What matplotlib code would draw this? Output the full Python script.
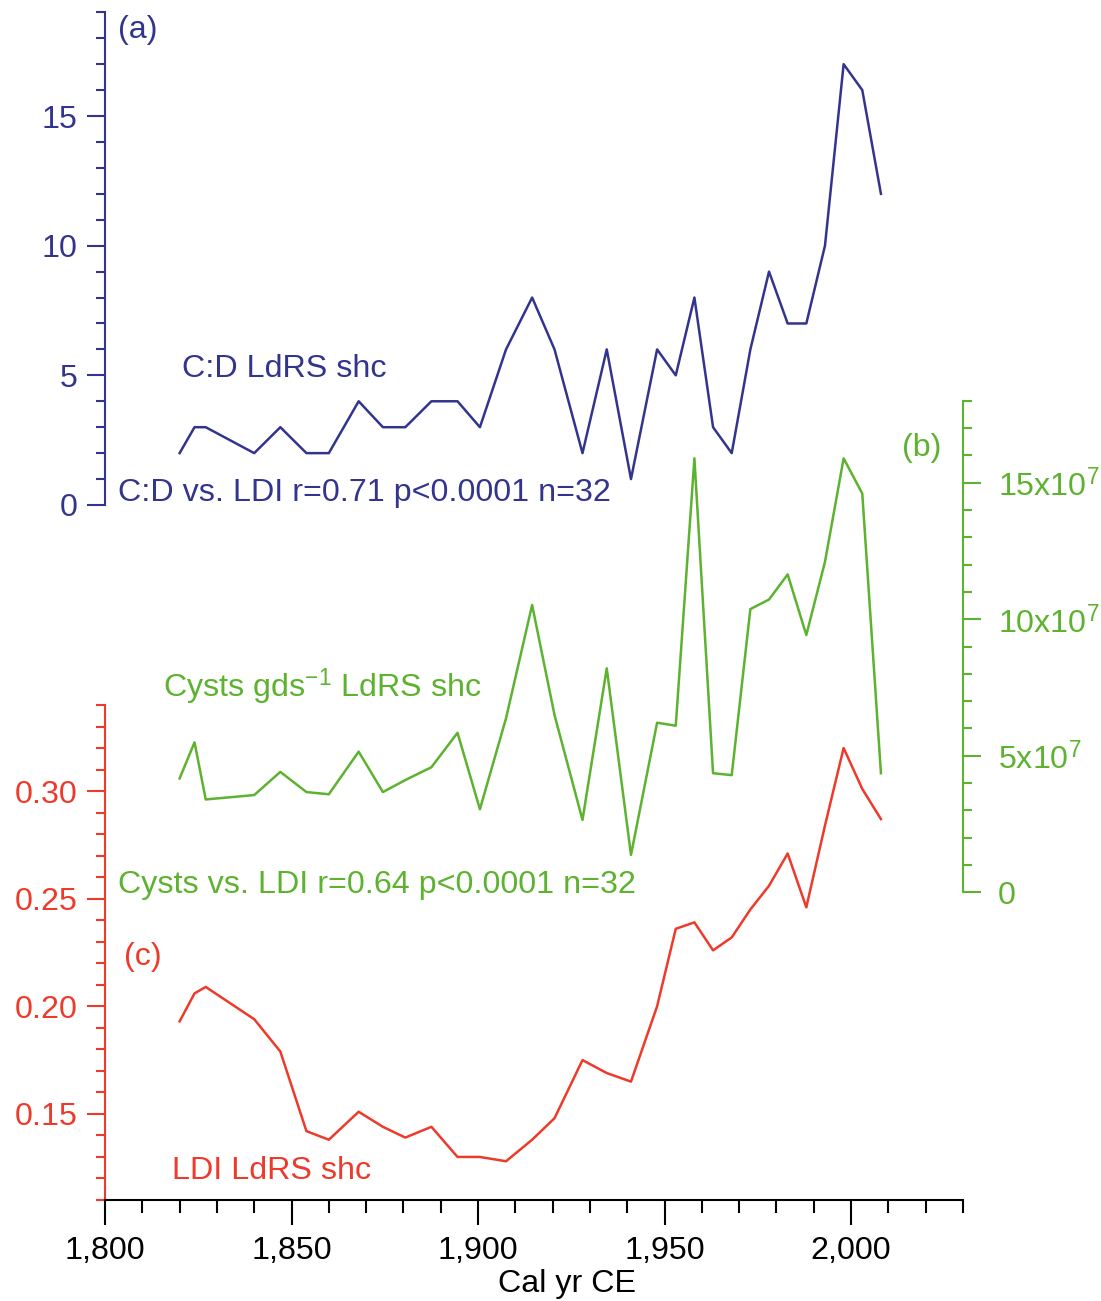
import matplotlib.pyplot as plt
from matplotlib.ticker import MultipleLocator, FuncFormatter

plt.rcParams['font.family'] = ['Liberation Sans', 'DejaVu Sans']
plt.rcParams['mathtext.fontset'] = 'custom'
plt.rcParams['mathtext.rm'] = 'Liberation Sans'
plt.rcParams['mathtext.default'] = 'regular'

# sample ages (Cal yr CE), shared by all three records
years = [1820, 1824, 1827, 1840, 1847, 1854, 1860, 1868, 1874.5, 1880.5,
         1887.5, 1894.5, 1900.5, 1907.5, 1914.5, 1920.5, 1928, 1934.5, 1941, 1948,
         1953, 1958, 1963, 1968, 1973, 1978, 1983, 1988, 1993, 1998,
         2003, 2008]
# (a) C:D ratio
cd_ratio = [2, 3, 3, 2, 3, 2, 2, 4, 3, 3,
            4, 4, 3, 6, 8, 6, 2, 6, 1, 6,
            5, 8, 3, 2, 6, 9, 7, 7, 10, 17,
            16, 12]
# (b) cysts per gram dry sediment, in units of 1e7
cysts = [4.17, 5.49, 3.40, 3.56, 4.41, 3.67, 3.59, 5.15, 3.67, 4.11,
         4.58, 5.84, 3.04, 6.37, 10.52, 6.49, 2.65, 8.20, 1.37, 6.21,
         6.10, 15.89, 4.36, 4.29, 10.37, 10.72, 11.64, 9.42, 12.10, 15.89,
         14.60, 4.36]
# (c) LDI
ldi = [0.193, 0.206, 0.209, 0.194, 0.179, 0.142, 0.138, 0.151, 0.144, 0.139,
       0.144, 0.130, 0.130, 0.128, 0.138, 0.148, 0.175, 0.169, 0.165, 0.200,
       0.236, 0.239, 0.226, 0.232, 0.245, 0.256, 0.271, 0.246, 0.284, 0.320,
       0.301, 0.287]

BLUE = '#33348e'
GREEN = '#5db22f'
RED = '#ee3a2a'
FS = 23.2
LW = 1.8

W, H = 1101, 1301
fig = plt.figure(figsize=(W / 100, H / 100), dpi=100)
X0, X1 = 105, 963


def box(top, bottom):
    return [X0 / W, 1 - bottom / H, (X1 - X0) / W, (bottom - top) / H]


def ftext(x, y, s, color):
    fig.text(x / W, 1 - y / H, s, color=color, fontsize=FS, ha='left', va='baseline')


ax_c = fig.add_axes(box(705, 1200))
ax_b = fig.add_axes(box(400.7, 892.3))
ax_a = fig.add_axes(box(12.3, 505))

for ax in (ax_a, ax_b, ax_c):
    ax.set_facecolor('none')
    ax.set_xlim(1800, 2030)
    for s in ax.spines.values():
        s.set_visible(False)
        s.set_linewidth(1.5)

# (a)
ax_a.plot(years, cd_ratio, color=BLUE, lw=LW)
ax_a.set_ylim(0, 19)
ax_a.spines['left'].set_visible(True)
ax_a.spines['left'].set_color(BLUE)
ax_a.xaxis.set_visible(False)
ax_a.yaxis.set_major_locator(MultipleLocator(5))
ax_a.yaxis.set_minor_locator(MultipleLocator(1))
ax_a.tick_params(axis='y', which='both', direction='out', color=BLUE, labelcolor=BLUE,
                 width=1.5, labelsize=FS, pad=7)
ax_a.tick_params(axis='y', which='major', length=13)
ax_a.tick_params(axis='y', which='minor', length=6.5)

# (b)
ax_b.plot(years, cysts, color=GREEN, lw=LW)
ax_b.set_ylim(0, 18)
ax_b.spines['right'].set_visible(True)
ax_b.spines['right'].set_color(GREEN)
ax_b.xaxis.set_visible(False)
ax_b.yaxis.tick_right()
ax_b.yaxis.set_major_locator(MultipleLocator(5))
ax_b.yaxis.set_minor_locator(MultipleLocator(1))
ax_b.yaxis.set_major_formatter(FuncFormatter(
    lambda v, p: '0' if v == 0 else r'$\mathregular{%dx10^{7}}$' % int(v)))
ax_b.tick_params(axis='y', which='both', direction='out', color=GREEN, labelcolor=GREEN,
                 width=1.5, labelsize=FS, pad=12)
ax_b.tick_params(axis='y', which='major', length=13)
ax_b.tick_params(axis='y', which='minor', length=6.5)

# (c)
ax_c.plot(years, ldi, color=RED, lw=LW)
ax_c.set_ylim(0.11, 0.34)
ax_c.spines['left'].set_visible(True)
ax_c.spines['left'].set_color(RED)
ax_c.spines['bottom'].set_visible(True)
ax_c.spines['bottom'].set_color('black')
ax_c.yaxis.set_major_locator(MultipleLocator(0.05))
ax_c.yaxis.set_minor_locator(MultipleLocator(0.01))
ax_c.yaxis.set_major_formatter(FuncFormatter(lambda v, p: '%.2f' % v))
ax_c.tick_params(axis='y', which='both', direction='out', color=RED, labelcolor=RED,
                 width=1.5, labelsize=FS, pad=7)
ax_c.tick_params(axis='y', which='major', length=13)
ax_c.tick_params(axis='y', which='minor', length=6.5)
ax_c.xaxis.set_major_locator(MultipleLocator(50))
ax_c.xaxis.set_minor_locator(MultipleLocator(10))
ax_c.xaxis.set_major_formatter(FuncFormatter(lambda v, p: f'{int(v):,}'))
ax_c.tick_params(axis='x', which='both', direction='out', color='black', labelcolor='black',
                 width=1.5, labelsize=FS, pad=8)
ax_c.tick_params(axis='x', which='major', length=18)
ax_c.tick_params(axis='x', which='minor', length=9)

fig.text(567 / W, 1 - 1284 / H, 'Cal yr CE', fontsize=FS, ha='center', va='center')

ftext(118, 38, '(a)', BLUE)
ftext(182, 377, 'C:D LdRS shc', BLUE)
ftext(118, 501, 'C:D vs. LDI r=0.71 p<0.0001 n=32', BLUE)
ftext(902, 456, '(b)', GREEN)
ftext(163, 697, 'Cysts gds$^{-1}$ LdRS shc', GREEN)
ftext(118, 893, 'Cysts vs. LDI r=0.64 p<0.0001 n=32', GREEN)
ftext(124, 965, '(c)', RED)
ftext(172, 1179, 'LDI LdRS shc', RED)

fig.savefig('out.png', dpi=100)
